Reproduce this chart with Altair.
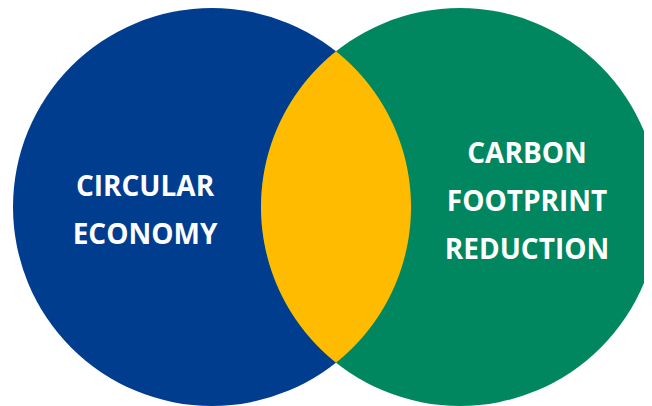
import altair as alt
import numpy as np
import pandas as pd

# ---- data ----
set_names = ["CIRCULAR\nECONOMY", "CARBON\nFOOTPRINT\nREDUCTION"]
set_colors = ["#003D8F", "#00875F"]
overlap_color = "#FFBB00"

# ---- geometry (chart units == pixels) ----
W, H = 636, 398
R = 199
centers_x = [204, 452]
center_y = 199
label_x = [137, 519]
label_y = [179.5, 147]

circles = pd.DataFrame({
    "name": set_names,
    "cx": centers_x,
    "cy": [center_y, center_y],
    "color": set_colors,
})

# lens = intersection of the two circles, derived from the circle geometry
half_gap = (centers_x[1] - centers_x[0]) / 2
dy_max = np.sqrt(R**2 - half_gap**2)
ys = np.linspace(center_y - dy_max, center_y + dy_max, 801)
w = np.sqrt(np.clip(R**2 - (ys - center_y) ** 2, 0, None))
lens = pd.DataFrame({"y": ys, "x1": centers_x[1] - w, "x2": centers_x[0] + w})

labels = pd.DataFrame({"name": set_names, "lx": label_x, "ly": label_y})

xs = alt.Scale(domain=[0, W], range=[0, W], nice=False, zero=False)
ysc = alt.Scale(domain=[0, H], range=[0, H], nice=False, zero=False)

circ = alt.Chart(circles).mark_circle(opacity=1, strokeWidth=0).encode(
    x=alt.X("cx:Q", scale=xs, axis=None),
    y=alt.Y("cy:Q", scale=ysc, axis=None),
    color=alt.Color("color:N", scale=None, legend=None),
    size=alt.value((2 * R) ** 2),
)

lens_mark = alt.Chart(lens).mark_area(orient="horizontal", color=overlap_color, opacity=1).encode(
    y=alt.Y("y:Q", scale=ysc, axis=None),
    x=alt.X("x1:Q", scale=xs, axis=None),
    x2="x2:Q",
)

text = alt.Chart(labels).mark_text(
    color="white", font="Open Sans", fontWeight="bold", fontSize=28,
    align="center", baseline="middle", lineBreak="\n", lineHeight=48,
).encode(
    x=alt.X("lx:Q", scale=xs, axis=None),
    y=alt.Y("ly:Q", scale=ysc, axis=None),
    text="name:N",
)

chart = alt.layer(circ, lens_mark, text).properties(
    width=W, height=H,
    autosize=alt.AutoSizeParams(type="none"),
    padding=0,
    background="white",
).configure_view(stroke=None)

chart.save("out.html", embed_options={"renderer": "svg", "actions": False})
